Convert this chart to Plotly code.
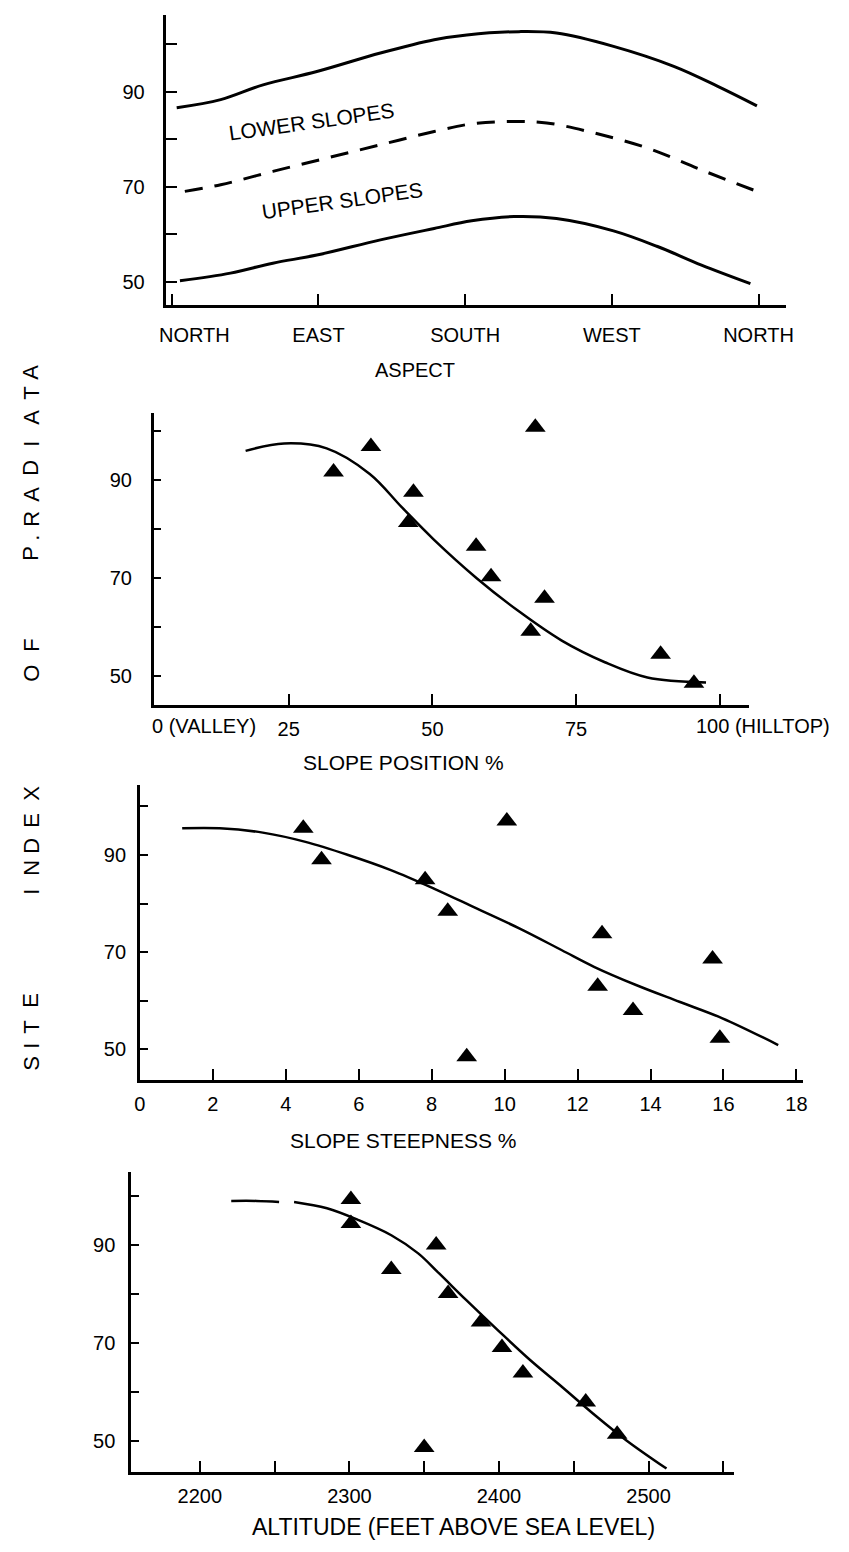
import plotly.graph_objects as go

# ---------------- DATA ----------------
# Panel 1: aspect (degrees, 0=N, 90=E, 180=S, 270=W, 360=N)
aspect_deg = [3, 30, 56, 89, 128, 161, 181, 213, 236, 271, 308, 335, 359]
lower_slopes_si = [86.6, 88.3, 91.4, 94.2, 98.1, 100.9, 101.9, 102.6, 102.3, 99.5, 95.3, 91.1, 87.0]
mid_deg = [8, 30, 62, 95, 128, 161, 184, 207, 230, 259, 292, 325, 359]
mid_si = [69.0, 70.4, 73.2, 76.0, 78.8, 81.6, 83.2, 83.7, 83.4, 81.3, 78.1, 73.5, 69.0]
upper_deg = [5, 36, 62, 89, 128, 161, 184, 210, 236, 271, 298, 325, 355]
upper_slopes_si = [50.2, 51.8, 53.9, 55.6, 58.8, 61.2, 62.8, 63.7, 63.3, 60.7, 57.4, 53.5, 49.6]
aspect_ticks = [0, 90, 180, 270, 360]
aspect_labels = ["", "EAST", "SOUTH", "WEST", "NORTH"]

# Panel 2: slope position
pos_pts_x = [32.8, 39.3, 46.7, 45.8, 67.9, 57.6, 60.2, 69.5, 67.1, 89.7, 95.5]
pos_pts_y = [91.6, 96.8, 87.5, 81.3, 100.7, 76.5, 70.3, 65.9, 59.2, 54.5, 48.6]
pos_fit_x = [17.5, 24.2, 31.6, 39.1, 44.7, 50.2, 57.7, 65.1, 72.5, 80.0, 87.4, 97.6]
pos_fit_y = [95.9, 97.4, 96.4, 91.2, 84.4, 77.9, 70.0, 63.2, 57.3, 52.9, 49.8, 48.8]

# Panel 3: slope steepness
stp_pts_x = [4.48, 4.98, 7.82, 8.44, 10.06, 8.96, 12.67, 12.55, 13.52, 15.7, 15.9]
stp_pts_y = [95.5, 89.0, 84.9, 78.4, 97.0, 48.5, 73.8, 63.0, 58.0, 68.6, 52.3]
stp_fit_x = [1.16, 2.19, 3.37, 4.54, 5.71, 6.88, 8.06, 9.23, 10.40, 11.57, 12.45, 13.62, 14.79, 15.97, 17.5]
stp_fit_y = [95.5, 95.5, 94.6, 92.7, 90.0, 86.9, 83.1, 79.0, 74.9, 70.4, 67.0, 63.2, 59.8, 56.4, 50.9]

# Panel 4: altitude
alt_pts_x = [2301, 2301, 2328, 2358, 2350, 2366, 2388, 2402, 2416, 2458, 2479]
alt_pts_y = [99.3, 94.4, 85.0, 90.0, 48.7, 80.1, 74.3, 69.1, 63.9, 58.0, 51.4]
alt_fit1_x = [2221, 2238, 2253]
alt_fit1_y = [99.0, 99.0, 98.8]
alt_fit2_x = [2263, 2285, 2306, 2328, 2346, 2360, 2378, 2399, 2421, 2442, 2463, 2485, 2512]
alt_fit2_y = [98.8, 97.5, 95.1, 92.0, 88.3, 84.2, 78.8, 72.7, 66.5, 61.1, 55.6, 50.2, 44.4]

si_ticks = [50, 60, 70, 80, 90, 100]
si_labels = ["50", "", "70", "", "90", ""]

# ---------------- LAYOUT HELPERS ----------------
OFF = 8                      # page body margin in the exported html
W, H = 849 - OFF, 1552 - OFF
FONT = "Liberation Sans, Arial, sans-serif"


def xdom(l, r):
    return [(l - OFF) / W, (r - OFF) / W]


def ydom(top, bottom):
    return [1 - (bottom - OFF) / H, 1 - (top - OFF) / H]


fig = go.Figure()
LINE = dict(color="black", width=3)
MK = dict(symbol="triangle-up", size=18, color="black")

# panel 1
fig.add_trace(go.Scatter(x=aspect_deg, y=lower_slopes_si, mode="lines", line=dict(LINE, shape="spline"),
                         xaxis="x", yaxis="y", showlegend=False))
fig.add_trace(go.Scatter(x=mid_deg, y=mid_si, mode="lines",
                         line=dict(color="black", width=3, dash="18px,12px", shape="spline"),
                         xaxis="x", yaxis="y", showlegend=False))
fig.add_trace(go.Scatter(x=upper_deg, y=upper_slopes_si, mode="lines", line=dict(LINE, shape="spline"),
                         xaxis="x", yaxis="y", showlegend=False))
# panel 2
fig.add_trace(go.Scatter(x=pos_fit_x, y=pos_fit_y, mode="lines", line=dict(LINE, width=2.5, shape="spline"),
                         xaxis="x2", yaxis="y2", showlegend=False))
fig.add_trace(go.Scatter(x=pos_pts_x, y=pos_pts_y, mode="markers", marker=MK,
                         xaxis="x2", yaxis="y2", showlegend=False))
# panel 3
fig.add_trace(go.Scatter(x=stp_fit_x, y=stp_fit_y, mode="lines", line=dict(LINE, width=2.5, shape="spline"),
                         xaxis="x3", yaxis="y3", showlegend=False))
fig.add_trace(go.Scatter(x=stp_pts_x, y=stp_pts_y, mode="markers", marker=MK,
                         xaxis="x3", yaxis="y3", showlegend=False))
# panel 4
fig.add_trace(go.Scatter(x=alt_fit1_x, y=alt_fit1_y, mode="lines", line=dict(LINE, width=2.5, shape="spline"),
                         xaxis="x4", yaxis="y4", showlegend=False))
fig.add_trace(go.Scatter(x=alt_fit2_x, y=alt_fit2_y, mode="lines", line=dict(LINE, width=2.5, shape="spline"),
                         xaxis="x4", yaxis="y4", showlegend=False))
fig.add_trace(go.Scatter(x=alt_pts_x, y=alt_pts_y, mode="markers", marker=MK,
                         xaxis="x4", yaxis="y4", showlegend=False))

AX = dict(showline=True, linecolor="black", linewidth=2.5, ticks="inside", ticklen=11, tickwidth=2,
          tickcolor="black", showgrid=False, zeroline=False, mirror=False,
          tickfont=dict(family=FONT, size=20, color="black"))

yax = dict(AX, tickmode="array", tickvals=si_ticks, ticktext=si_labels)

fig.update_layout(
    width=W, height=H, margin=dict(l=0, r=0, t=0, b=0),
    paper_bgcolor="white", plot_bgcolor="white",
    font=dict(family=FONT, color="black"),
    xaxis=dict(AX, domain=xdom(163, 793), range=[-3.3, 376.8], anchor="y",
               tickmode="array", tickvals=aspect_ticks, ticktext=aspect_labels, ticklabelstandoff=10),
    yaxis=dict(yax, domain=ydom(15, 305), range=[45.1, 106.1], anchor="x", ticklabelstandoff=15),
    xaxis2=dict(AX, domain=xdom(150, 755), range=[1.5, 105], anchor="y2",
                tickmode="array", tickvals=[25, 50, 75, 100], ticktext=["25", "50", "75", ""],
                ticklabelstandoff=4),
    yaxis2=dict(yax, domain=ydom(413, 705), range=[44.2, 103.6], anchor="x2", ticklabelstandoff=15, ticklen=8),
    xaxis3=dict(AX, domain=xdom(136, 810), range=[0, 18.17], anchor="y3",
                tickmode="array", tickvals=list(range(0, 19, 2)), ticktext=[str(v) for v in range(0, 19, 2)],
                ticklabelstandoff=4),
    yaxis3=dict(yax, domain=ydom(785, 1080), range=[43.7, 104.4], anchor="x3", ticklabelstandoff=7, ticklen=8),
    xaxis4=dict(AX, domain=xdom(127, 740), range=[2154, 2557], anchor="y4",
                tickmode="array", tickvals=list(range(2200, 2551, 50)),
                ticktext=["2200", "", "2300", "", "2400", "", "2500", ""], ticklabelstandoff=4),
    yaxis4=dict(yax, domain=ydom(1172, 1472), range=[43.7, 104.9], anchor="x4", ticklabelstandoff=9, ticklen=8),
)

ann = []


def px_ann(text, x, y, size=20, xanchor="center", angle=0):
    ann.append(dict(text=text, x=(x - OFF) / W, y=1 - (y - OFF) / H, xref="paper", yref="paper",
                    showarrow=False, xanchor=xanchor, yanchor="middle", textangle=angle,
                    font=dict(family=FONT, size=size, color="black")))


# panel 1 texts
px_ann("NORTH", 192, 335)
px_ann("ASPECT", 416, 370)
px_ann("LOWER SLOPES", 311, 121, size=21, angle=-8)
px_ann("UPPER SLOPES", 342, 200, size=21, angle=-8)
# panel 2 texts
px_ann("0 (VALLEY)", 146, 726, xanchor="left")
px_ann("100 (HILLTOP)", 700, 726, xanchor="left")
px_ann("SLOPE POSITION %", 404, 763, size=21)
# panel 3
px_ann("SLOPE STEEPNESS %", 404, 1140, size=21)
# panel 4
px_ann("ALTITUDE (FEET ABOVE SEA LEVEL)", 455, 1527, size=23)

# vertical, letter-spaced axis title (letters placed bottom to top)
title_letters = [("S", 1063), ("I", 1046), ("T", 1027), ("E", 1000),
                 ("I", 892), ("N", 868), ("D", 846), ("E", 820), ("X", 793),
                 ("O", 673), ("F", 645),
                 ("P", 553), (".", 538), ("R", 519), ("A", 494), ("D", 468), ("I", 444),
                 ("A", 417), ("T", 393), ("A", 372)]
for ch, yy in title_letters:
    px_ann(ch, 25, yy, size=22, angle=-90)

fig.update_layout(annotations=ann)
fig.write_html("out.html")
